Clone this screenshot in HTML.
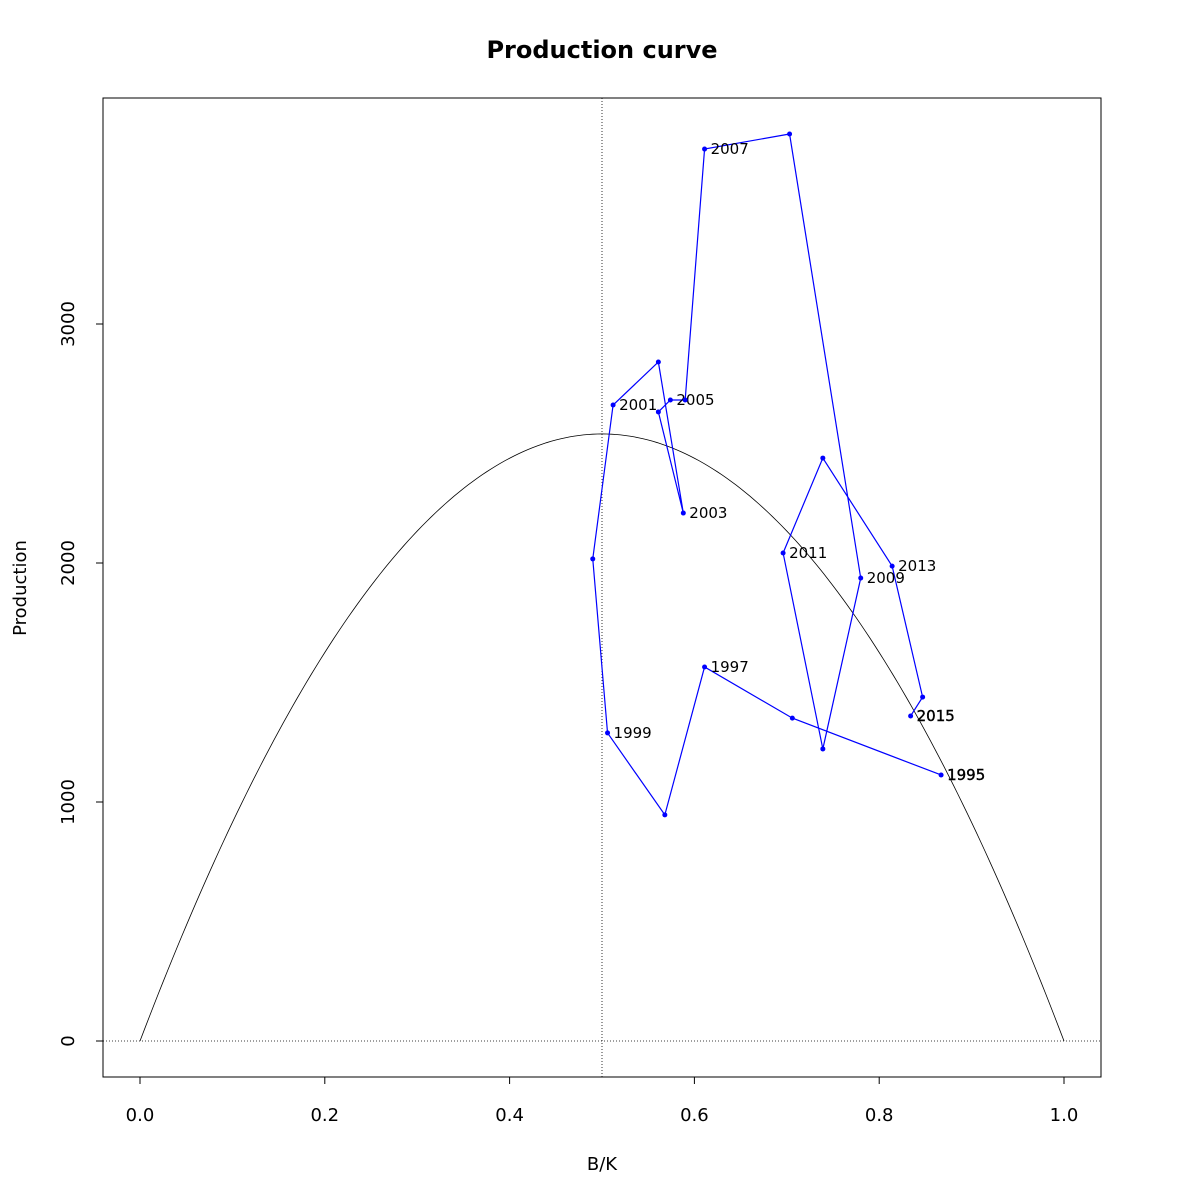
<!DOCTYPE html>
<html><head><meta charset="utf-8"><style>body{margin:0;background:#fff}svg{display:block;font-family:"DejaVu Sans","Liberation Sans",sans-serif}</style></head>
<body>
<svg id="chart" width="1200" height="1200" xmlns="http://www.w3.org/2000/svg">
<rect width="1200" height="1200" fill="#fff"/>
<text x="602" y="58" text-anchor="middle" font-size="24" font-weight="bold">Production curve</text>
<rect x="103" y="98" width="998" height="979" fill="none" stroke="#000" stroke-width="1"/>
<text x="602" y="1170" text-anchor="middle" font-size="18">B/K</text>
<text transform="translate(26,588) rotate(-90)" text-anchor="middle" font-size="18">Production</text>
<g id="g"></g>
</svg>
<script>
const years = [1995,1996,1997,1998,1999,2000,2001,2002,2003,2004,2005,2006,2007,2008,2009,2010,2011,2012,2013,2014,2015];
const bk = [0.867,0.706,0.611,0.568,0.506,0.490,0.512,0.561,0.588,0.561,0.574,0.590,0.611,0.703,0.780,0.739,0.696,0.739,0.814,0.847,0.834];
const prod = [1113,1351,1565,946,1289,2017,2661,2841,2209,2632,2682,2682,3732,3795,1937,1222,2042,2439,1987,1439,1360];
const xTicks = [0,0.2,0.4,0.6,0.8,1.0];
const xTickLabels = ["0.0","0.2","0.4","0.6","0.8","1.0"];
const yTicks = [0,1000,2000,3000];
const msy = 2540;

const NS="http://www.w3.org/2000/svg";
const g=document.getElementById('g');
const X=v=>140+v*924;
const Y=v=>1041-v*0.239;
function el(t,a){const e=document.createElementNS(NS,t);for(const k in a)e.setAttribute(k,a[k]);g.appendChild(e);return e;}
let e=el('line',{x1:X(0),x2:X(1),y1:1077,y2:1077,stroke:'#000'});

xTicks.forEach((t,i)=>{
  let l=el('line',{x1:X(t),x2:X(t),y1:1077,y2:1084,stroke:'#000'});
  
  let tx=el('text',{x:X(t),y:1121,'text-anchor':'middle','font-size':18});tx.textContent=xTickLabels[i];
  
});
e=el('line',{x1:103,x2:103,y1:Y(0),y2:Y(3000),stroke:'#000'});

yTicks.forEach(t=>{
  let l=el('line',{x1:96,x2:103,y1:Y(t),y2:Y(t),stroke:'#000'});
  
  let tx=el('text',{transform:`translate(74,${Y(t)}) rotate(-90)`,'text-anchor':'middle','font-size':18});tx.textContent=String(t);
  
});
e=el('line',{x1:103,x2:1101,y1:Y(0),y2:Y(0),stroke:'#000','stroke-dasharray':'1,2','stroke-width':0.8});

e=el('line',{x1:X(0.5),x2:X(0.5),y1:98,y2:1077,stroke:'#000','stroke-dasharray':'1,2','stroke-width':0.8});

let d='';for(let i=0;i<=200;i++){const b=i/200;d+=(i?'L':'M')+X(b).toFixed(2)+','+Y(4*msy*b*(1-b)).toFixed(2);}
e=el('path',{d:d,fill:'none',stroke:'#000','stroke-width':0.8});

e=el('polyline',{points:bk.map((b,i)=>X(b)+','+Y(prod[i])).join(' '),fill:'none',stroke:'#0000ff','stroke-width':1.2});

bk.forEach((b,i)=>{
  let c=el('circle',{cx:X(b),cy:Y(prod[i]),r:2.5,fill:'#0000ff'});
  
  if(years[i]%2===1){
    const first=(i===0||i===years.length-1);
    let t=el('text',{x:X(b)+6,y:Y(prod[i])+5,'font-size':15,stroke:first?'#000':'none','stroke-width':first?0.4:0});t.textContent=String(years[i]);
    
  }
});
</script>
</body></html>
